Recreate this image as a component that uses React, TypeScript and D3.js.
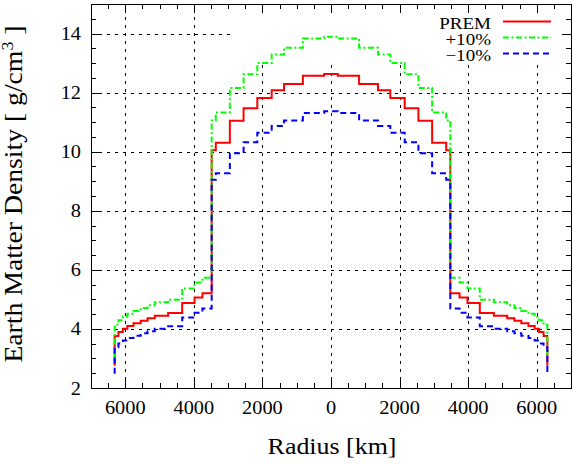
import React, { useRef, useEffect } from 'react';
import * as d3 from 'd3';

// radius boundaries of the density steps (km), from the centre outwards
const radiusEdges = [0, 200, 820, 1370, 1730, 2150, 2550, 2950, 3360, 3480, 3750, 3980, 4340, 4750, 5140, 5350, 5550, 5760, 5940, 6070, 6200, 6310];

// density inside each step (g/cm^3)
const premDensity = [12.63, 12.57, 12.29, 12.08, 11.82, 11.47, 11.05, 10.3, 10.05, 5.21, 5.06, 4.88, 4.54, 4.45, 4.36, 4.28, 4.19, 4.1, 4.01, 3.9, 3.76];
const plusDensity = [13.89, 13.83, 13.52, 13.29, 13.0, 12.62, 12.16, 11.33, 11.06, 5.73, 5.57, 5.37, 4.99, 4.9, 4.8, 4.71, 4.61, 4.51, 4.41, 4.29, 4.14];
const minusDensity = [11.37, 11.31, 11.06, 10.87, 10.64, 10.32, 9.95, 9.27, 9.05, 4.69, 4.55, 4.39, 4.09, 4.01, 3.92, 3.85, 3.77, 3.69, 3.61, 3.51, 3.38];

// value at the surface (last point of each curve)
const premSurface = 2.75;
const plusSurface = 3.03;
const minusSurface = 2.48;

const seriesNames = ['PREM', '+10%', '\u221210%'];
const xTicks = [-6000, -4000, -2000, 0, 2000, 4000, 6000];
const yTicks = [2, 4, 6, 8, 10, 12, 14];

const width = 573;
const height = 464;
const margin = { left: 91, right: 2, top: 4, bottom: 76 };
const font = 'Liberation Serif';

const buildProfile = (values: number[], surface: number) => {
  const R = radiusEdges[radiusEdges.length - 1];
  const pts: [number, number][] = [[-R, surface]];
  for (let k = values.length - 1; k >= 0; k--) pts.push([-radiusEdges[k + 1], values[k]]);
  for (let k = 0; k < values.length; k++) pts.push([radiusEdges[k], values[k]]);
  pts.push([R, surface]);
  return pts;
};

const App = () => {
  const ref = useRef<SVGSVGElement>(null);

  useEffect(() => {
    if (!ref.current) return;
    const svg = d3.select(ref.current);
    svg.selectAll('*').remove();

    const x0 = margin.left;
    const x1 = width - margin.right;
    const y0 = margin.top;
    const y1 = height - margin.bottom;

    const xScale = d3.scaleLinear().domain([-7000, 7000]).range([x0, x1]);
    const yScale = d3.scaleLinear().domain([2, 15]).range([y1, y0]);

    // the key area hides the grid
    const keyLeft = 233;
    const keyBottom = 60;

    const grid = svg.append('g').attr('stroke', '#000').attr('stroke-width', 1).attr('stroke-dasharray', '3,5');
    xTicks.forEach(t => {
      const x = Math.round(xScale(t)) + 0.5;
      const top = x > keyLeft ? keyBottom : y0;
      grid.append('line').attr('x1', x).attr('x2', x).attr('y1', y1).attr('y2', top);
    });
    yTicks.slice(1).forEach(t => {
      const y = Math.round(yScale(t)) + 0.5;
      const right = y < keyBottom ? keyLeft : x1;
      grid.append('line').attr('x1', x0).attr('x2', right).attr('y1', y).attr('y2', y);
    });

    // ticks on all four sides
    const ticks = svg.append('g').attr('stroke', '#000').attr('stroke-width', 1);
    d3.range(-7000, 7001, 500).forEach(t => {
      const x = Math.round(xScale(t)) + 0.5;
      const len = t % 2000 === 0 ? 9 : 5;
      ticks.append('line').attr('x1', x).attr('x2', x).attr('y1', y1).attr('y2', y1 - len);
      ticks.append('line').attr('x1', x).attr('x2', x).attr('y1', y0).attr('y2', y0 + len);
    });
    d3.range(2, 15.01, 0.5).forEach(t => {
      const y = Math.round(yScale(t)) + 0.5;
      const len = t % 2 === 0 ? 9 : 5;
      ticks.append('line').attr('x1', x0).attr('x2', x0 + len).attr('y1', y).attr('y2', y);
      ticks.append('line').attr('x1', x1).attr('x2', x1 - len).attr('y1', y).attr('y2', y);
    });

    const line = d3
      .line<[number, number]>()
      .x(d => xScale(d[0]))
      .y(d => yScale(d[1]))
      .curve(d3.curveStepAfter);

    const series = [
      { values: premDensity, surface: premSurface, color: '#ff0000', dash: null },
      { values: plusDensity, surface: plusSurface, color: '#00ff00', dash: '6,2.5,2,2.5' },
      { values: minusDensity, surface: minusSurface, color: '#0000ff', dash: '6,4' },
    ];

    series.forEach(s => {
      svg
        .append('path')
        .attr('d', line(buildProfile(s.values, s.surface)))
        .attr('fill', 'none')
        .attr('stroke', s.color)
        .attr('stroke-width', 2)
        .attr('stroke-dasharray', s.dash);
    });

    // border
    svg
      .append('rect')
      .attr('x', x0 + 0.5)
      .attr('y', y0 + 0.5)
      .attr('width', x1 - x0)
      .attr('height', y1 - y0)
      .attr('fill', 'none')
      .attr('stroke', '#000')
      .attr('stroke-width', 1);

    const addText = (transform: string, anchor: string, size: number) =>
      svg
        .append('text')
        .attr('transform', transform)
        .attr('text-anchor', anchor)
        .attr('font-family', font)
        .attr('font-size', size)
        .attr('fill', '#000');

    xTicks.forEach(t => {
      addText(`translate(${xScale(t)},414) scale(1.1,1)`, 'middle', 18.5).text(Math.abs(t));
    });
    yTicks.forEach(t => {
      addText(`translate(81,${yScale(t) + 6.5}) scale(1.1,1)`, 'end', 18.5).text(t);
    });

    addText('translate(332,454) scale(1.08,1)', 'middle', 24).text('Radius [km]');

    const ylab = addText('translate(22,194) rotate(-90) scale(1.13,1)', 'middle', 24.5);
    ylab.append('tspan').text('Earth Matter Density [ g/cm');
    ylab.append('tspan').attr('font-size', 16).attr('dy', -9).text('3');
    ylab.append('tspan').attr('dy', 9).text(' ]');

    // key
    seriesNames.forEach((name, i) => {
      const ly = 21.5 + i * 16;
      addText(`translate(491,${ly + 7}) scale(1.12,1)`, 'end', 17).text(name);
      svg
        .append('line')
        .attr('x1', 503)
        .attr('x2', 551)
        .attr('y1', ly)
        .attr('y2', ly)
        .attr('stroke', series[i].color)
        .attr('stroke-width', 2)
        .attr('stroke-dasharray', series[i].dash);
    });
  }, []);

  return (
    <svg
      ref={ref}
      width={width}
      height={height}
      style={{ position: 'absolute', left: 0, top: 0, background: '#fff' }}
    />
  );
};

export default App;
